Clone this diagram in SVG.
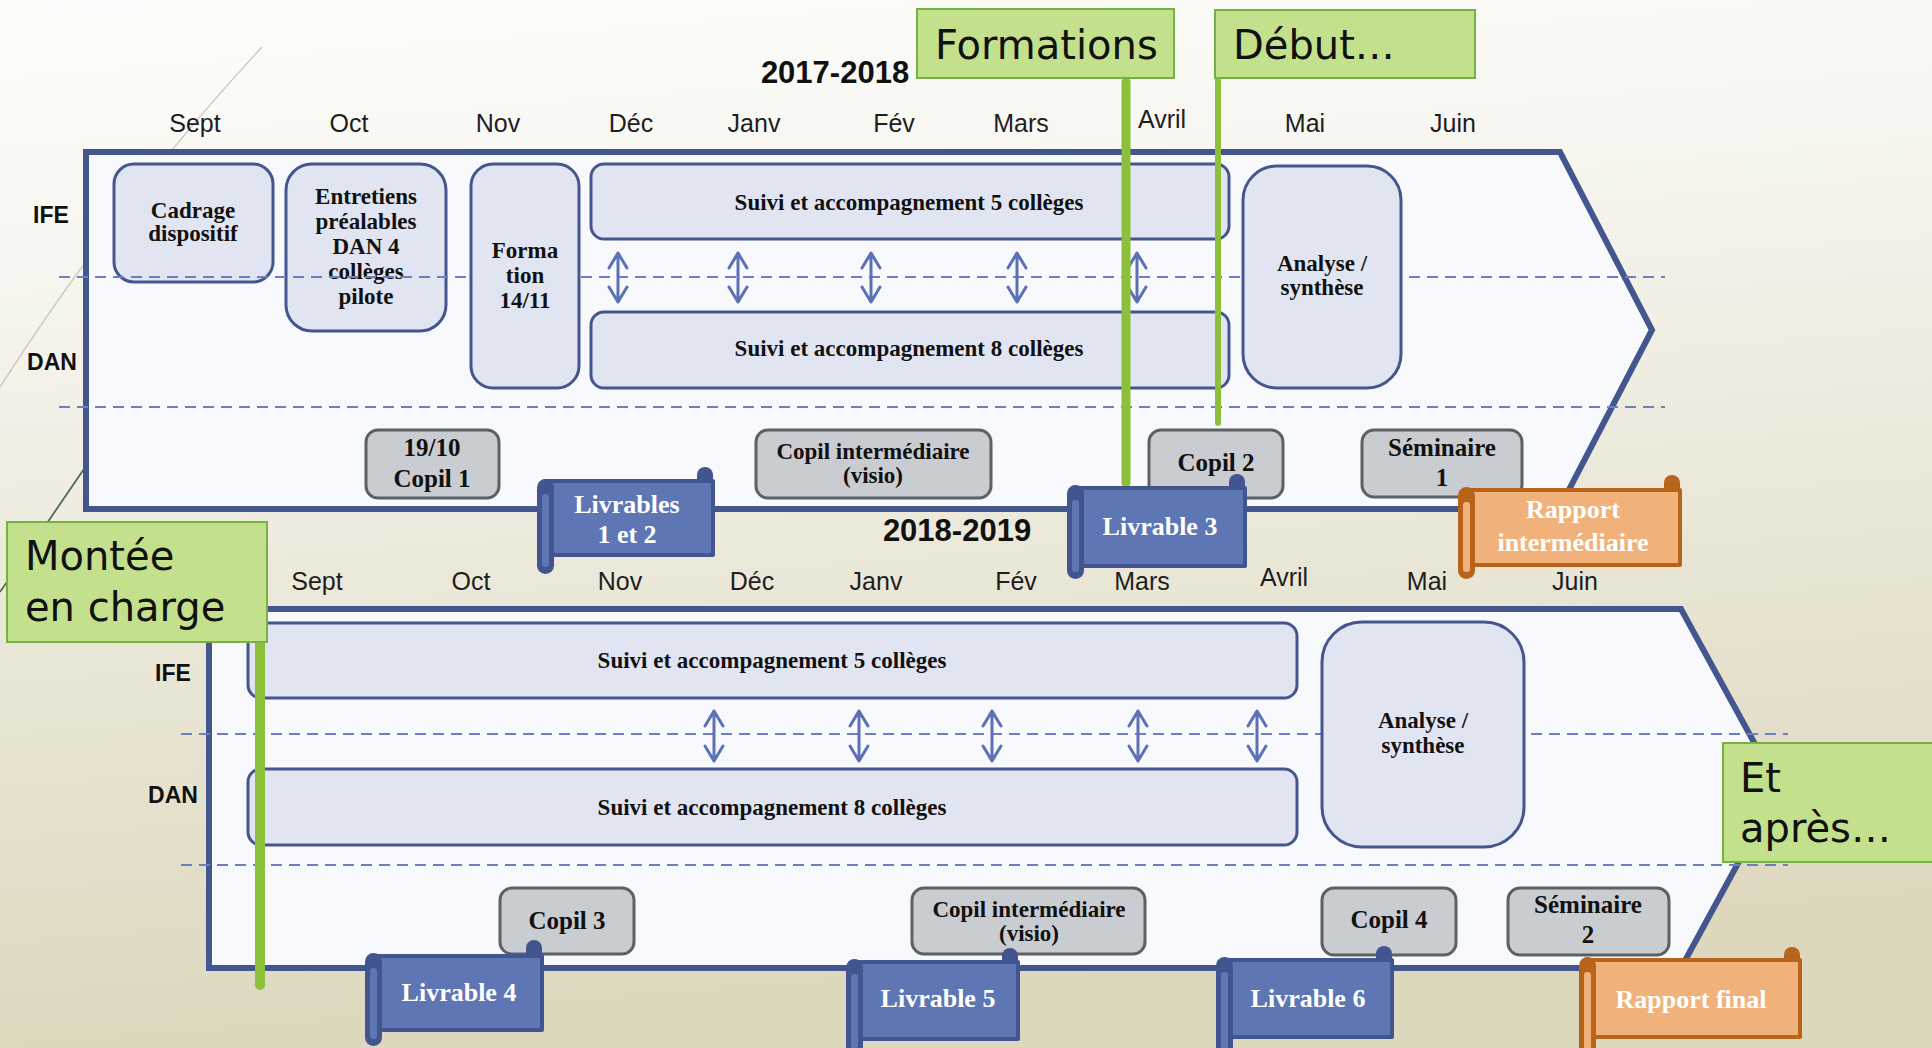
<svg xmlns="http://www.w3.org/2000/svg" width="1932" height="1048" viewBox="0 0 1932 1048">
<defs>
<linearGradient id="bg" x1="0" y1="0" x2="0.15" y2="1">
<stop offset="0" stop-color="#fdfdfb"/>
<stop offset="0.25" stop-color="#f7f6f0"/>
<stop offset="1" stop-color="#ddd7bd"/>
</linearGradient>
<style>
.frame{fill:#f8f9fc;stroke:#44568e;stroke-width:6;stroke-linejoin:miter}
.dash{stroke:#6b7fc2;stroke-width:2.2;stroke-dasharray:11 7;fill:none}
.act{fill:#e1e5f1;stroke:#44568e;stroke-width:3}
.gray{fill:#c9ccd0;stroke:#5d6165;stroke-width:3}
.arr{stroke:#5c70b6;stroke-width:3;fill:none;stroke-linecap:round;stroke-linejoin:round}
.sb{fill:#5f76b5;stroke:#42558f;stroke-width:4;stroke-linejoin:round}
.sbd{fill:#42558f}
.sbi{fill:#5f76b5}
.so{fill:#f0b27a;stroke:#b8631a;stroke-width:4;stroke-linejoin:round}
.sod{fill:#b8631a}
.soi{fill:#f0b27a}
.green{fill:#c3e08c;stroke:#76b143;stroke-width:2}
.gline{stroke:#8cbf3a;stroke-linecap:round;fill:none}
.month{font-family:"Liberation Sans",Arial,sans-serif;font-size:25px;fill:#1e1e1e;text-anchor:middle}
.lab{font-family:"Liberation Sans",Arial,sans-serif;font-size:23px;font-weight:bold;fill:#111;text-anchor:middle}
.yr{font-family:"Liberation Sans",Arial,sans-serif;font-size:31px;font-weight:bold;fill:#111;text-anchor:middle}
.s{font-family:"Liberation Serif","Times New Roman",serif;font-weight:bold;font-size:23px;fill:#111;text-anchor:middle}
.g{font-size:25px}
.w{font-family:"Liberation Serif","Times New Roman",serif;font-weight:bold;font-size:26px;fill:#fff;text-anchor:middle}
.co{font-family:"DejaVu Sans",sans-serif;font-size:40px;fill:#111}
</style>
</defs>
<rect x="0" y="0" width="1932" height="1048" fill="url(#bg)"/>
<path d="M262,47 Q120,200 0,387" stroke="#c9ccc2" stroke-width="1.5" fill="none"/>
<path d="M86,466 L0,592" stroke="#4e6b5a" stroke-width="1.8" fill="none"/>

<g id="frame1">
<path class="frame" d="M86,152 L1560,152 L1652,330 L1559,509 L86,509 Z"/>
</g>
<g id="frame2">
<path class="frame" d="M209,609 L1681,609 L1779,788 L1681,968 L209,968 Z"/>
</g>

<g id="titles">
<text class="yr" x="835" y="83">2017-2018</text>
<text class="yr" x="957" y="541">2018-2019</text>
<text class="month" x="195" y="132">Sept</text>
<text class="month" x="349" y="132">Oct</text>
<text class="month" x="498" y="132">Nov</text>
<text class="month" x="631" y="132">Déc</text>
<text class="month" x="754" y="132">Janv</text>
<text class="month" x="894" y="132">Fév</text>
<text class="month" x="1021" y="132">Mars</text>
<text class="month" x="1162" y="128">Avril</text>
<text class="month" x="1305" y="132">Mai</text>
<text class="month" x="1453" y="132">Juin</text>
<text class="month" x="317" y="590">Sept</text>
<text class="month" x="471" y="590">Oct</text>
<text class="month" x="620" y="590">Nov</text>
<text class="month" x="752" y="590">Déc</text>
<text class="month" x="876" y="590">Janv</text>
<text class="month" x="1016" y="590">Fév</text>
<text class="month" x="1142" y="590">Mars</text>
<text class="month" x="1284" y="586">Avril</text>
<text class="month" x="1427" y="590">Mai</text>
<text class="month" x="1575" y="590">Juin</text>
<text class="lab" x="51" y="223">IFE</text>
<text class="lab" x="52" y="370">DAN</text>
<text class="lab" x="173" y="681">IFE</text>
<text class="lab" x="173" y="803">DAN</text>
</g>

<g id="n-cadrage">
<rect class="act" x="114" y="164" width="159" height="118" rx="20"/>
<text class="s" x="193" y="218">Cadrage</text>
<text class="s" x="193" y="241">dispositif</text>
</g>
<g id="n-entretiens">
<rect class="act" x="286" y="164" width="160" height="167" rx="26"/>
<text class="s" x="366" y="204">Entretiens</text>
<text class="s" x="366" y="229">préalables</text>
<text class="s" x="366" y="254">DAN 4</text>
<text class="s" x="366" y="279">collèges</text>
<text class="s" x="366" y="304">pilote</text>
</g>

<g id="connectors">
<line class="dash" x1="59" y1="277" x2="1665" y2="277"/>
<line class="dash" x1="59" y1="407" x2="1665" y2="407"/>
<line class="dash" x1="181" y1="734" x2="1788" y2="734"/>
<line class="dash" x1="181" y1="865" x2="1788" y2="865"/>
</g>

<g id="n-forma">
<rect class="act" x="471" y="164" width="108" height="224" rx="22"/>
<text class="s" x="525" y="258">Forma</text>
<text class="s" x="525" y="283">tion</text>
<text class="s" x="525" y="308">14/11</text>
</g>
<g id="n-suivi5a">
<rect class="act" x="591" y="164" width="638" height="75" rx="13"/>
<text class="s" x="909" y="210">Suivi et accompagnement 5 collèges</text>
</g>
<g id="n-suivi8a">
<rect class="act" x="591" y="312" width="638" height="76" rx="13"/>
<text class="s" x="909" y="356">Suivi et accompagnement 8 collèges</text>
</g>
<g id="n-analyse1">
<rect class="act" x="1243" y="166" width="158" height="222" rx="34"/>
<text class="s" x="1322" y="271">Analyse /</text>
<text class="s" x="1322" y="295">synthèse</text>
</g>
<g id="arrows1">
<path class="arr" d="M618,253 V302 M609,268 L618,253 L627,268 M609,287 L618,302 L627,287"/>
<path class="arr" d="M738,253 V302 M729,268 L738,253 L747,268 M729,287 L738,302 L747,287"/>
<path class="arr" d="M871,253 V302 M862,268 L871,253 L880,268 M862,287 L871,302 L880,287"/>
<path class="arr" d="M1017,253 V302 M1008,268 L1017,253 L1026,268 M1008,287 L1017,302 L1026,287"/>
<path class="arr" d="M1137,253 V302 M1128,268 L1137,253 L1146,268 M1128,287 L1137,302 L1146,287"/>
</g>

<g id="n-copil1">
<rect class="gray" x="366" y="430" width="133" height="68" rx="12"/>
<text class="s g" x="432" y="456">19/10</text>
<text class="s g" x="432" y="487">Copil 1</text>
</g>
<g id="n-copilint1">
<rect class="gray" x="756" y="430" width="235" height="68" rx="12"/>
<text class="s" x="873" y="459">Copil intermédiaire</text>
<text class="s" x="873" y="483">(visio)</text>
</g>
<g id="n-copil2">
<rect class="gray" x="1149" y="430" width="134" height="68" rx="12"/>
<text class="s g" x="1216" y="471">Copil 2</text>
</g>
<g id="n-seminaire1">
<rect class="gray" x="1362" y="430" width="160" height="67" rx="12"/>
<text class="s g" x="1442" y="456">Séminaire</text>
<text class="s g" x="1442" y="486">1</text>
</g>

<g id="n-suivi5b">
<rect class="act" x="248" y="623" width="1049" height="75" rx="13"/>
<text class="s" x="772" y="668">Suivi et accompagnement 5 collèges</text>
</g>
<g id="n-suivi8b">
<rect class="act" x="248" y="769" width="1049" height="76" rx="13"/>
<text class="s" x="772" y="815">Suivi et accompagnement 8 collèges</text>
</g>
<g id="n-analyse2">
<rect class="act" x="1322" y="622" width="202" height="225" rx="40"/>
<text class="s" x="1423" y="728">Analyse /</text>
<text class="s" x="1423" y="753">synthèse</text>
</g>
<g id="arrows2">
<path class="arr" d="M714,711 V761 M705,726 L714,711 L723,726 M705,746 L714,761 L723,746"/>
<path class="arr" d="M859,711 V761 M850,726 L859,711 L868,726 M850,746 L859,761 L868,746"/>
<path class="arr" d="M992,711 V761 M983,726 L992,711 L1001,726 M983,746 L992,761 L1001,746"/>
<path class="arr" d="M1138,711 V761 M1129,726 L1138,711 L1147,726 M1129,746 L1138,761 L1147,746"/>
<path class="arr" d="M1257,711 V761 M1248,726 L1257,711 L1266,726 M1248,746 L1257,761 L1266,746"/>
</g>
<g id="n-copil3">
<rect class="gray" x="500" y="888" width="134" height="66" rx="12"/>
<text class="s g" x="567" y="929">Copil 3</text>
</g>
<g id="n-copilint2">
<rect class="gray" x="912" y="888" width="233" height="66" rx="12"/>
<text class="s" x="1029" y="917">Copil intermédiaire</text>
<text class="s" x="1029" y="941">(visio)</text>
</g>
<g id="n-copil4">
<rect class="gray" x="1322" y="888" width="134" height="67" rx="12"/>
<text class="s g" x="1389" y="928">Copil 4</text>
</g>
<g id="n-seminaire2">
<rect class="gray" x="1508" y="888" width="161" height="67" rx="12"/>
<text class="s g" x="1588" y="913">Séminaire</text>
<text class="s g" x="1588" y="943">2</text>
</g>

<g id="green-lines">
<line class="gline" x1="1126" y1="82" x2="1126" y2="483" stroke-width="9"/>
<line class="gline" x1="1218" y1="80" x2="1218" y2="423" stroke-width="6"/>
<line class="gline" x1="260" y1="642" x2="260" y2="985" stroke-width="10"/>
</g>

<g id="n-livrables12">
<rect class="sbd" x="697" y="467" width="16" height="24" rx="8"/>
<rect class="sb" x="545" y="481" width="168" height="74"/>
<rect class="sbd" x="537" y="479" width="17" height="95" rx="8.5"/>
<rect class="sbi" x="542" y="494" width="7" height="73" rx="3"/>
<text class="w" x="627" y="513">Livrables</text>
<text class="w" x="627" y="543">1 et 2</text>
</g>
<g id="n-livrable3">
<rect class="sbd" x="1229" y="474" width="16" height="24" rx="8"/>
<rect class="sb" x="1075" y="488" width="170" height="78"/>
<rect class="sbd" x="1067" y="485" width="17" height="94" rx="8.5"/>
<rect class="sbi" x="1072" y="500" width="7" height="72" rx="3"/>
<text class="w" x="1160" y="535">Livrable 3</text>
</g>
<g id="n-rapportint">
<rect class="sod" x="1664" y="475" width="16" height="24" rx="8"/>
<rect class="so" x="1466" y="490" width="214" height="75"/>
<rect class="sod" x="1458" y="487" width="17" height="92" rx="8.5"/>
<rect class="soi" x="1463" y="502" width="7" height="70" rx="3"/>
<text class="w" x="1573" y="518">Rapport</text>
<text class="w" x="1573" y="551">intermédiaire</text>
</g>
<g id="n-livrable4">
<rect class="sbd" x="526" y="940" width="16" height="24" rx="8"/>
<rect class="sb" x="373" y="956" width="169" height="74"/>
<rect class="sbd" x="365" y="953" width="17" height="93" rx="8.5"/>
<rect class="sbi" x="370" y="968" width="7" height="71" rx="3"/>
<text class="w" x="459" y="1001">Livrable 4</text>
</g>
<g id="n-livrable5">
<rect class="sbd" x="1002" y="948" width="16" height="24" rx="8"/>
<rect class="sb" x="854" y="962" width="164" height="77"/>
<rect class="sbd" x="846" y="959" width="17" height="100" rx="8.5"/>
<rect class="sbi" x="851" y="974" width="7" height="80" rx="3"/>
<text class="w" x="938" y="1007">Livrable 5</text>
</g>
<g id="n-livrable6">
<rect class="sbd" x="1376" y="946" width="16" height="24" rx="8"/>
<rect class="sb" x="1224" y="960" width="168" height="77"/>
<rect class="sbd" x="1216" y="957" width="17" height="100" rx="8.5"/>
<rect class="sbi" x="1221" y="972" width="7" height="80" rx="3"/>
<text class="w" x="1308" y="1007">Livrable 6</text>
</g>
<g id="n-rapportfinal">
<rect class="sod" x="1784" y="947" width="16" height="24" rx="8"/>
<rect class="so" x="1587" y="960" width="213" height="77"/>
<rect class="sod" x="1579" y="957" width="17" height="100" rx="8.5"/>
<rect class="soi" x="1584" y="972" width="7" height="80" rx="3"/>
<text class="w" x="1691" y="1008">Rapport final</text>
</g>

<g id="n-formations">
<rect class="green" x="917" y="9" width="257" height="69"/>
<text class="co" x="935" y="59">Formations</text>
</g>
<g id="n-debut">
<rect class="green" x="1215" y="10" width="260" height="68"/>
<text class="co" x="1233" y="59">Début…</text>
</g>
<g id="n-montee">
<rect class="green" x="7" y="522" width="260" height="120"/>
<text class="co" x="25" y="570">Montée</text>
<text class="co" x="25" y="621">en charge</text>
</g>
<g id="n-etapres">
<rect class="green" x="1723" y="743" width="220" height="119"/>
<text class="co" x="1740" y="792">Et</text>
<text class="co" x="1740" y="842">après…</text>
</g>
</svg>
